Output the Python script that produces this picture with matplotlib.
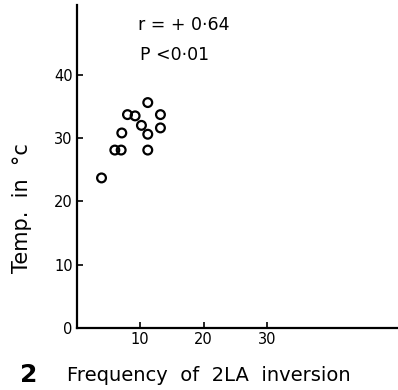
"""Scatter of temperature against frequency of 2LA inversion."""
import matplotlib
matplotlib.use('Agg')
import matplotlib.pyplot as plt

# frequency of 2LA inversion (%) and temperature (deg C)
frequency = [3.9, 6.0, 7.0, 7.1, 8.0, 9.2, 10.2, 11.2, 11.2, 11.2, 13.2, 13.2]
temperature = [23.7, 28.1, 28.1, 30.8, 33.7, 33.5, 32.0, 35.6, 30.6, 28.1, 33.7, 31.6]

x_ticks = [10, 20, 30]
y_ticks = [0, 10, 20, 30, 40]

fig = plt.figure(figsize=(3.98, 3.9), dpi=100)
ax = fig.add_axes([0.193, 0.159, 0.807, 0.828])

ax.scatter(frequency, temperature, s=40, facecolors='none', edgecolors='black',
           linewidths=1.6, clip_on=False)

ax.set_xlim(0, 50.7)
ax.set_ylim(0, 51)
ax.set_xticks(x_ticks)
ax.set_yticks(y_ticks)
ax.spines['top'].set_visible(False)
ax.spines['right'].set_visible(False)
ax.spines['left'].set_linewidth(1.6)
ax.spines['bottom'].set_linewidth(1.6)
ax.tick_params(direction='in', length=4, width=1.2, labelsize=10.5, pad=3)

ax.set_ylabel('Temp.  in  °c', fontsize=15)
ax.yaxis.set_label_coords(-0.14, 0.37)

ax.text(0.19, 0.938, 'r = + 0·64', transform=ax.transAxes, fontsize=12.5, va='center')
ax.text(0.197, 0.845, 'P <0·01', transform=ax.transAxes, fontsize=12.5, va='center')

fig.text(0.05, 0.038, '2', fontsize=18, fontweight='bold', va='center')
fig.text(0.168, 0.036, 'Frequency  of  2LA  inversion', fontsize=14, va='center')

fig.savefig('out.png', dpi=100)
